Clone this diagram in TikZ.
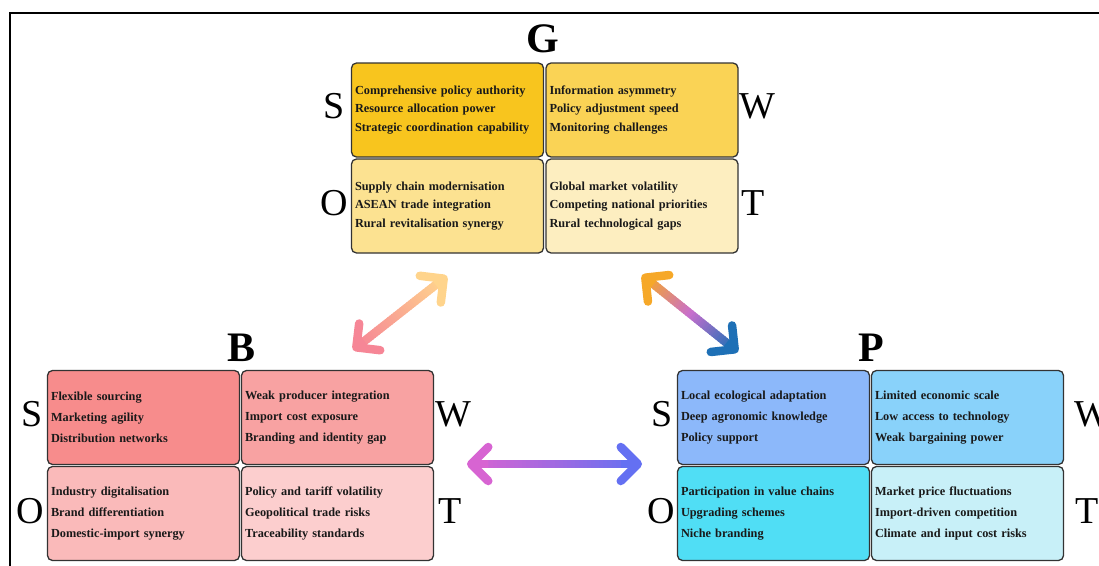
\documentclass[tikz,border=0pt]{standalone}
\usepackage{fontspec}
\setmainfont{Liberation Serif}
\usetikzlibrary{arrows.meta,calc}

\definecolor{gS}{RGB}{248,197,30}
\definecolor{gW}{RGB}{250,211,85}
\definecolor{gO}{RGB}{252,226,145}
\definecolor{gT}{RGB}{253,238,192}
\definecolor{bS}{RGB}{247,140,140}
\definecolor{bW}{RGB}{248,162,162}
\definecolor{bO}{RGB}{250,186,186}
\definecolor{bT}{RGB}{252,206,206}
\definecolor{pS}{RGB}{140,184,250}
\definecolor{pW}{RGB}{137,210,250}
\definecolor{pO}{RGB}{80,222,245}
\definecolor{pT}{RGB}{200,240,248}
% arrow colours
\definecolor{aPink}{RGB}{246,134,150}
\definecolor{aSalmon}{RGB}{250,172,145}
\definecolor{aPeach}{RGB}{255,212,140}
\definecolor{aOrange}{RGB}{246,168,40}
\definecolor{aViolet}{RGB}{200,110,205}
\definecolor{aBlue}{RGB}{30,112,182}
\definecolor{aMagenta}{RGB}{215,100,210}
\definecolor{aLilac}{RGB}{160,105,225}
\definecolor{aIndigo}{RGB}{100,112,242}

\tikzset{
  cell/.style={draw=black!80, line width=1.3pt, rounded corners=5pt,
    minimum width=192pt, minimum height=94pt, text width=185pt, inner xsep=3.5pt,
    align=left, text=black!90, font=\bfseries\fontsize{12.3}{20.8}\selectfont},
  gcell/.style={cell, font=\bfseries\fontsize{12.3}{18.8}\selectfont},
  head/.style={font=\bfseries\fontsize{42}{42}\selectfont},
  swot/.style={font=\fontsize{38}{38}\selectfont},
  gline/.style={line width=8.5pt},
  tip/.style={-{Straight Barb[round,length=17pt,width=34pt]}}
}

% two-way arrow with a colour gradient: from, to, start, middle, end colour
\newcommand{\gradarrow}[5]{%
  \coordinate (ga) at ($(#1)!6pt!(#2)$);
  \coordinate (gb) at ($(#2)!6pt!(#1)$);
  \foreach \k in {0,...,39}{%
    \pgfmathsetmacro\fa{\k/40}%
    \pgfmathsetmacro\fb{min(1,(\k+1.4)/40)}%
    \ifnum\k<20
      \pgfmathtruncatemacro\pc{5*\k+2}%
      \colorlet{segcol}{#4!\pc!#3}%
    \else
      \pgfmathtruncatemacro\pc{5*(\k-20)+2}%
      \colorlet{segcol}{#5!\pc!#4}%
    \fi
    \draw[gline, segcol] ($(ga)!\fa!(gb)$) -- ($(ga)!\fb!(gb)$);
  }%
  \draw[gline, #3, tip] ($(#1)!0.12!(#2)$) -- (#1);
  \draw[gline, #5, tip] ($(#1)!0.88!(#2)$) -- (#2);
}

\begin{document}
\begin{tikzpicture}[x=1pt, y=-1pt]
\useasboundingbox (0,0) rectangle (1099,565);
\draw[line width=2pt] (10,566) -- (10,13) -- (1100,13);

% G block
\node[head] (gL) at (543,39) {G};
\node[gcell, fill=gS] (gs) at (447.5,110) {Comprehensive policy authority\\Resource allocation power\\Strategic coordination capability};
\node[gcell, fill=gW] (gw) at (642,110) {Information asymmetry\\Policy adjustment speed\\Monitoring challenges};
\node[gcell, fill=gO] (go) at (447.5,206) {Supply chain modernisation\\ASEAN trade integration\\Rural revitalisation synergy};
\node[gcell, fill=gT] (gt) at (642,206) {Global market volatility\\Competing national priorities\\Rural technological gaps};
\node[swot] (gsL) at (334,106) {S};
\node[swot] (gwL) at (757,106) {W};
\node[swot] (goL) at (334,203) {O};
\node[swot] (gtL) at (753,203) {T};

% B block
\node[head] (bL) at (242,347.5) {B};
\node[cell, fill=bS] (bs) at (143.5,417.5) {Flexible sourcing\\Marketing agility\\Distribution networks};
\node[cell, fill=bW] (bw) at (337.5,417.5) {Weak producer integration\\Import cost exposure\\Branding and identity gap};
\node[cell, fill=bO] (bo) at (143.5,513.5) {Industry digitalisation\\Brand differentiation\\Domestic-import synergy};
\node[cell, fill=bT] (bt) at (337.5,513.5) {Policy and tariff volatility\\Geopolitical trade risks\\Traceability standards};
\node[swot] (bsL) at (32,414) {S};
\node[swot] (bwL) at (453,414) {W};
\node[swot] (boL) at (30,511) {O};
\node[swot] (btL) at (450,511) {T};

% P block
\node[head] (pL) at (871,347.5) {P};
\node[cell, fill=pS] (ps) at (773.5,417.5) {Local ecological adaptation\\Deep agronomic knowledge\\Policy support};
\node[cell, fill=pW] (pw) at (967.5,417.5) {Limited economic scale\\Low access to technology\\Weak bargaining power};
\node[cell, fill=pO] (po) at (773.5,513.5) {Participation in value chains\\Upgrading schemes\\Niche branding};
\node[cell, fill=pT] (pt) at (967.5,513.5) {Market price fluctuations\\Import-driven competition\\Climate and input cost risks};
\node[swot] (psL) at (662,414) {S};
\node[swot] (pwL) at (1092,414) {W};
\node[swot] (poL) at (661,511) {O};
\node[swot] (ptL) at (1087,511) {T};

% arrows between the blocks
\coordinate (arB) at (353,350);
\coordinate (arGl) at (447,276);
\coordinate (arGr) at (642,275);
\coordinate (arP) at (738,352);
\coordinate (arBr) at (467,464);
\coordinate (arPl) at (642,464);
\gradarrow{arB}{arGl}{aPink}{aSalmon}{aPeach}
\gradarrow{arGr}{arP}{aOrange}{aViolet}{aBlue}
\gradarrow{arBr}{arPl}{aMagenta}{aLilac}{aIndigo}
\end{tikzpicture}
\end{document}
